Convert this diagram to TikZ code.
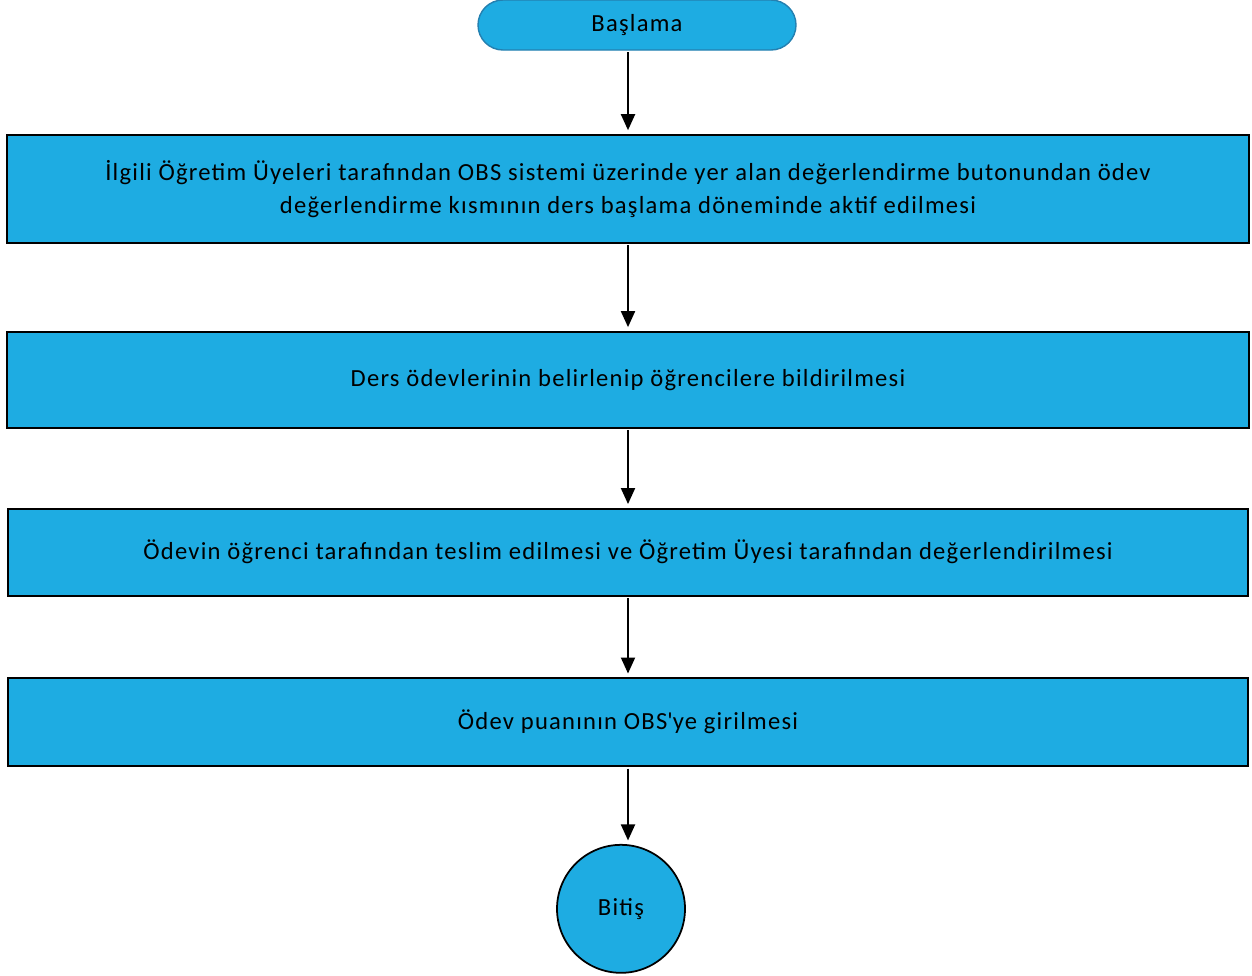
\documentclass[tikz,border=0pt]{standalone}
\usepackage{fontspec}
\setmainfont[LetterSpace=5]{Carlito}
\usetikzlibrary{positioning,shapes.geometric,arrows.meta}
\definecolor{boxblue}{RGB}{30,172,226}
\definecolor{edgeblue}{RGB}{36,128,176}

\begin{document}
\begin{tikzpicture}[
    node distance=1.61cm,
    font=\fontsize{14}{18.7}\selectfont,
    terminal/.style={rectangle, rounded corners=0.5cm, draw=edgeblue, fill=boxblue, line width=0.8pt, minimum width=6.36cm, minimum height=1cm, inner sep=0pt},
    process/.style={rectangle, draw=black, fill=boxblue, line width=1.1pt, minimum width=24.84cm, align=center, inner sep=0pt},
    endpoint/.style={circle, draw=black, fill=boxblue, line width=1pt, minimum size=2.56cm, inner sep=0pt},
    arrow/.style={-{Triangle[width=0.28cm,length=0.32cm]}, line width=1.1pt, shorten >=2pt, shorten <=1pt}
]
    \useasboundingbox (0,0) rectangle (25.04,-19.5);
    \node (start) [terminal] at (12.74,-0.5) {Başlama};
    \node (activate) [process, minimum height=2.16cm, below=of start, xshift=-0.18cm, yshift=-0.05cm]
        {İlgili Öğretim Üyeleri tarafından OBS sistemi üzerinde yer alan değerlendirme butonundan ödev\\
         değerlendirme kısmının ders başlama döneminde aktif edilmesi};
    \node (announce) [process, minimum height=1.92cm, below=of activate, yshift=-0.13cm]
        {Ders ödevlerinin belirlenip öğrencilere bildirilmesi};
    \node (submit) [process, minimum width=24.8cm, minimum height=1.74cm, below=of announce, yshift=0.03cm]
        {Ödevin öğrenci tarafından teslim edilmesi ve Öğretim Üyesi tarafından değerlendirilmesi};
    \node (grade) [process, minimum width=24.8cm, minimum height=1.76cm, below=of submit]
        {Ödev puanının OBS\textquotesingle ye girilmesi};
    \node (finish) [endpoint, below=of grade, xshift=-0.14cm, yshift=0.07cm] {Bitiş};
    \draw [arrow] (activate.north |- start.south) -- (activate.north);
    \draw [arrow] (activate.south) -- (announce.north);
    \draw [arrow] (announce.south) -- (submit.north);
    \draw [arrow] (submit.south) -- (grade.north);
    \draw [arrow] (grade.south) -- (grade.south |- finish.north);
\end{tikzpicture}
\end{document}
